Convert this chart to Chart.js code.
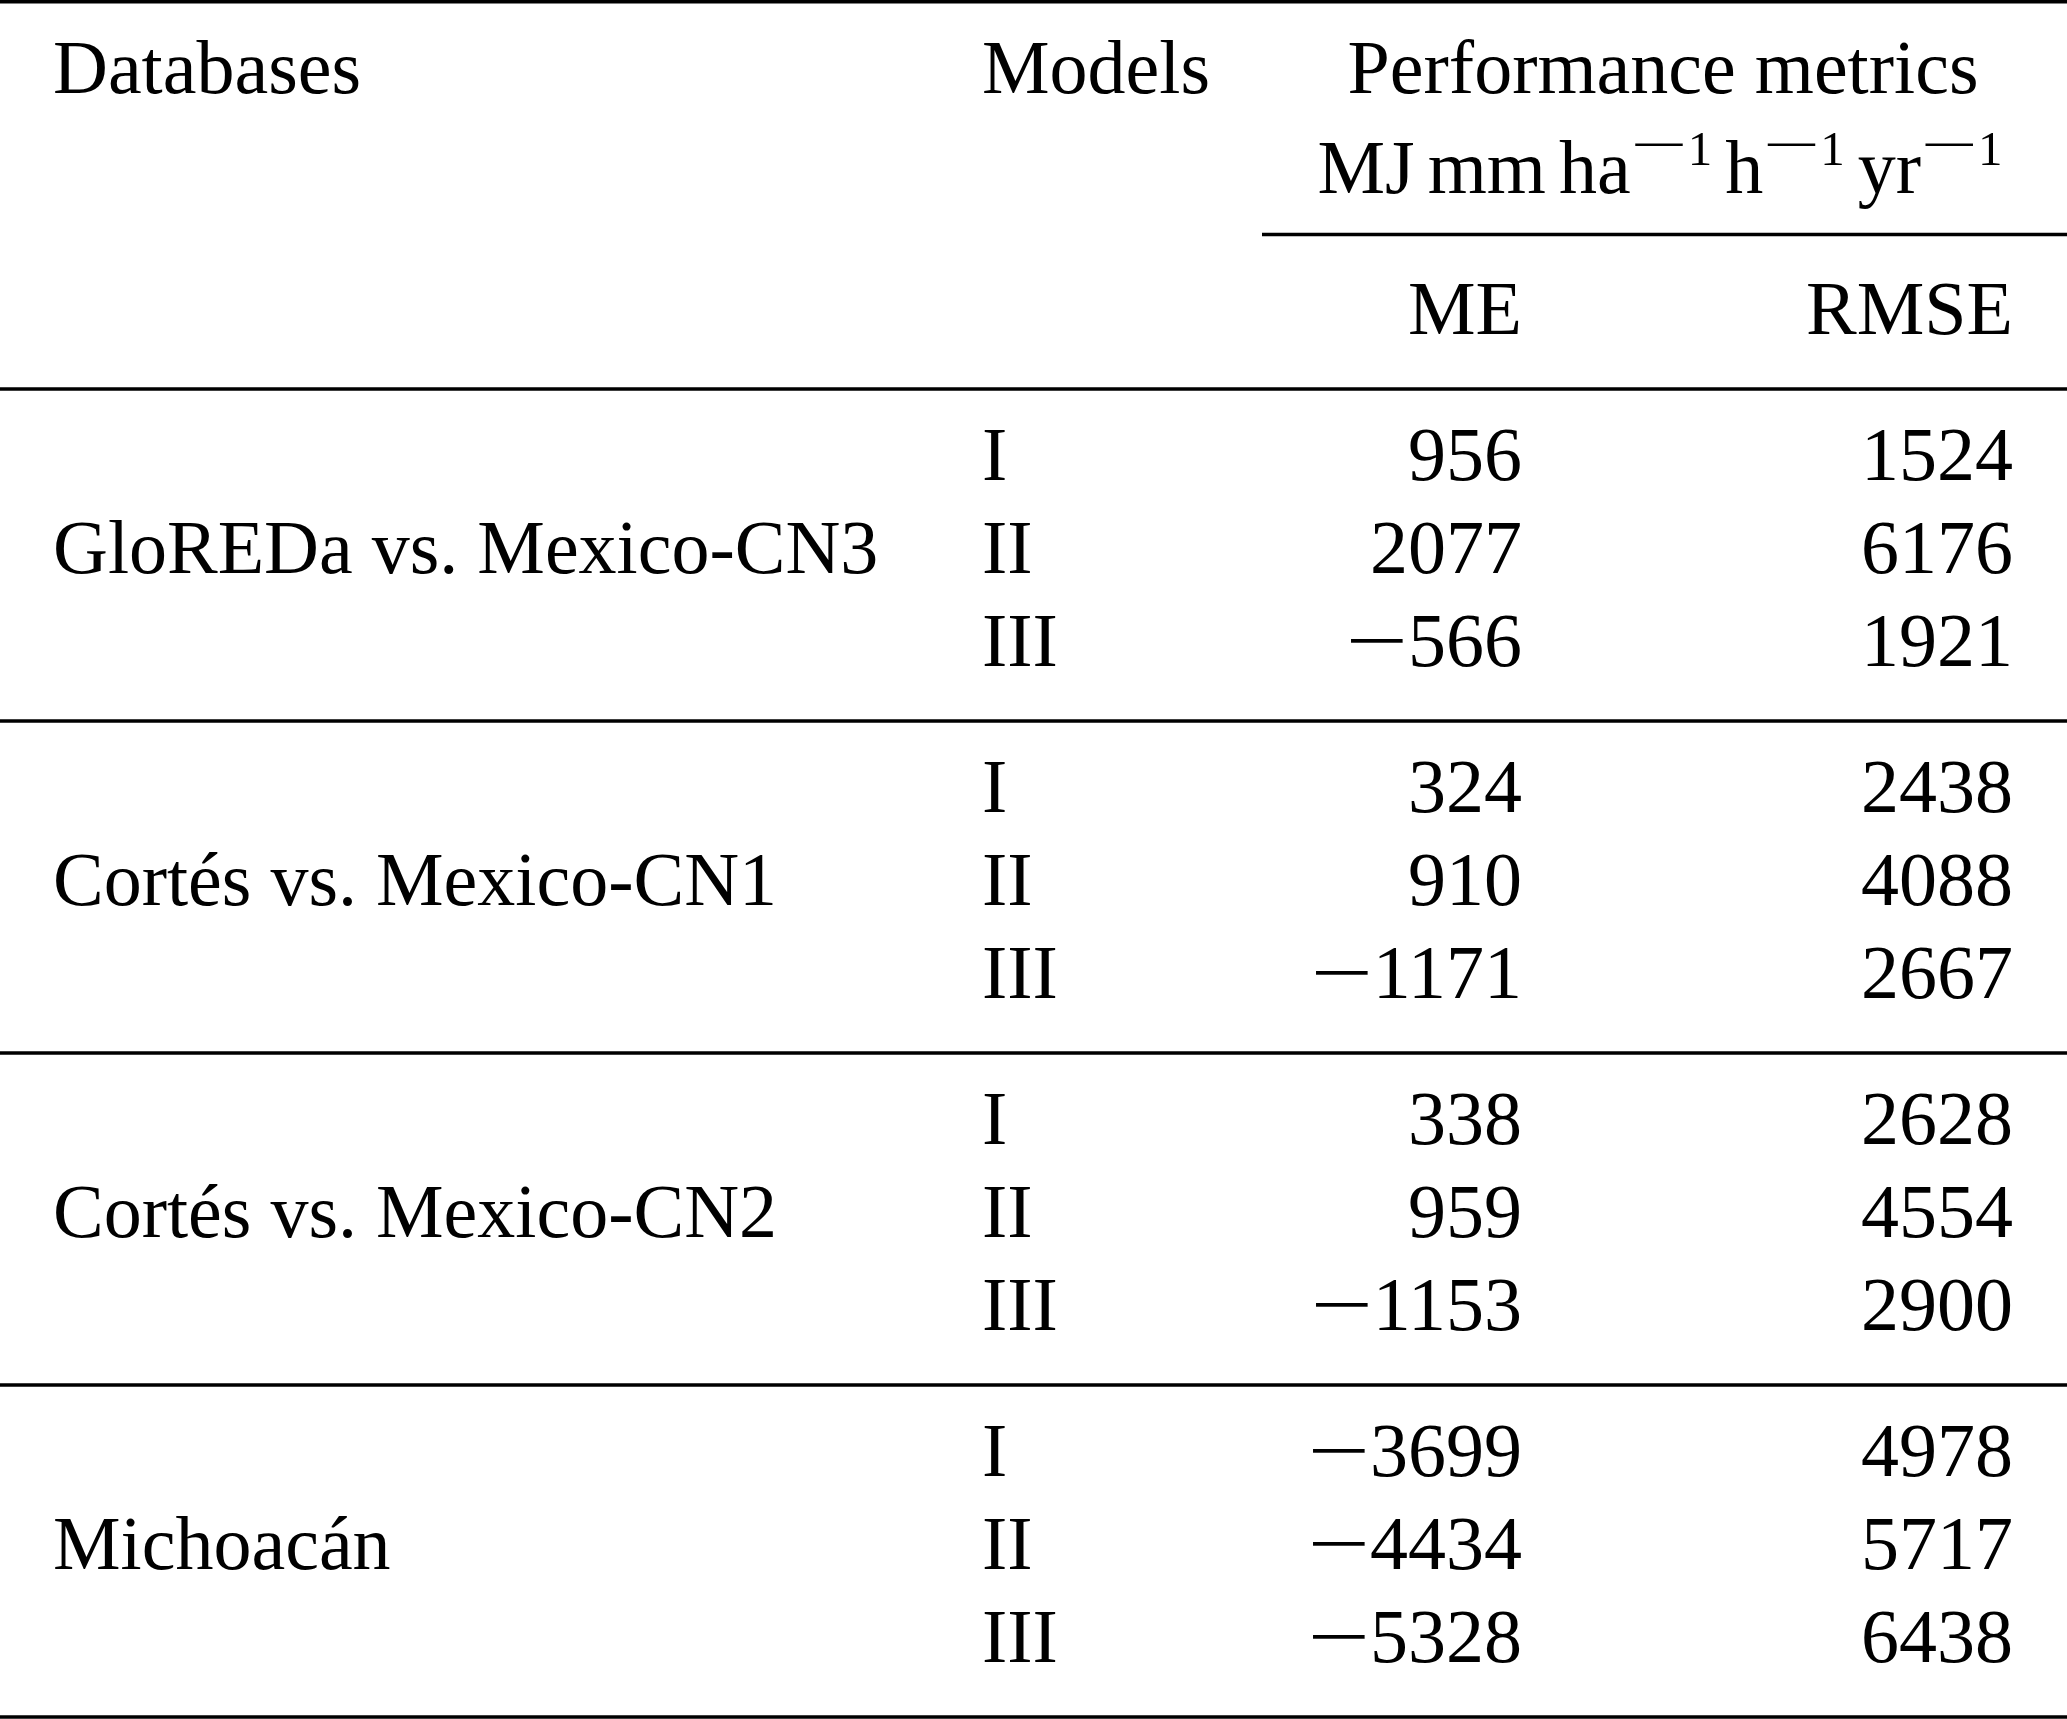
<!DOCTYPE html>
<html>
<head>
<meta charset="utf-8">
<title>Performance metrics</title>
<script src="https://cdn.jsdelivr.net/npm/chart.js@4/dist/chart.umd.min.js"></script>
<style>
    html, body { margin: 0; padding: 0; background: #ffffff; }
    #wrap { width: 2067px; height: 1719px; }
</style>
</head>
<body>
<div id="wrap"><canvas id="tabela" width="2067" height="1719"></canvas></div>
<script>
// --- DADOS DA TABELA ---
const databases = ['GloREDa vs. Mexico-CN3', 'Cortés vs. Mexico-CN1', 'Cortés vs. Mexico-CN2', 'Michoacán'];
const models = ['I', 'II', 'III'];
const meValues = [
    [956, 2077, -566],
    [324, 910, -1171],
    [338, 959, -1153],
    [-3699, -4434, -5328]
];
const rmseValues = [
    [1524, 6176, 1921],
    [2438, 4088, 2667],
    [2628, 4554, 2900],
    [4978, 5717, 6438]
];
const columnHeaders = ['Databases', 'Models', 'Performance metrics'];
const metricHeaders = ['ME', 'RMSE'];
// unidade: MJ mm ha^-1 h^-1 yr^-1
const unitTokens = ['MJ', 'mm', 'ha', 'h', 'yr'];
const unitExponents = [null, null, '1', '1', '1']; // todos negativos

// --- LAYOUT (unidades da escala = pixels da imagem) ---
const layout = {
    dbX: 53, modelX: 982, meRight: 1522, rmseRight: 2013,
    metricsCenter: 1663, unitsCenter: 1660, cmidStart: 1262,
    headBase: 93, unitBase: 193, supRaise: 28, subBase: 334,
    topRule: 1.75, cmidRule: 234.5, midRule: 389,
    rowOffset: 90.5, rowPitch: 93.3, groupPitch: 332,
    thinGap: 13, supGap: 4, supMinusW: 50, supMinusGap: 3, supMinusLift: 4,
    minusW: 54, minusGap: 4
};

const mainFont = '76px "Liberation Serif", "Times New Roman", serif';
const supFont = '49px "Liberation Serif", "Times New Roman", serif';

const tablePlugin = {
    id: 'tablePlugin',
    afterDraw(chart) {
        const { ctx, scales: { x, y } } = chart;
        const px = v => x.getPixelForValue(v);
        const py = v => y.getPixelForValue(v);

        ctx.save();
        ctx.fillStyle = '#000';
        ctx.strokeStyle = '#000';
        ctx.textBaseline = 'alphabetic';

        const rule = (yy, x0, x1, w) => {
            ctx.lineWidth = w;
            ctx.beginPath();
            ctx.moveTo(px(x0), py(yy));
            ctx.lineTo(px(x1), py(yy));
            ctx.stroke();
        };
        const text = (t, xx, yy, align) => {
            ctx.textAlign = align;
            ctx.fillText(t, px(xx), py(yy));
        };
        // sinal de menos "matemático", mais largo que o glifo da fonte
        const minus = (xLeft, yy, inkW) => {
            ctx.textAlign = 'left';
            const m = ctx.measureText('−');
            const ink = m.actualBoundingBoxLeft + m.actualBoundingBoxRight;
            const s = inkW / ink;
            ctx.save();
            ctx.translate(px(xLeft) + s * m.actualBoundingBoxLeft, py(yy));
            ctx.scale(s, 1);
            ctx.fillText('−', 0, 0);
            ctx.restore();
        };
        const number = (v, right, yy) => {
            const digits = String(Math.abs(v));
            text(digits, right, yy, 'right');
            if (v < 0) {
                const w = ctx.measureText(digits).width;
                minus(right - w - layout.minusGap - layout.minusW, yy, layout.minusW);
            }
        };

        // Cabeçalho
        ctx.font = mainFont;
        text(columnHeaders[0], layout.dbX, layout.headBase, 'left');
        text(columnHeaders[1], layout.modelX, layout.headBase, 'left');
        text(columnHeaders[2], layout.metricsCenter, layout.headBase, 'center');

        // Linha de unidades com expoentes
        const unitLine = (startX, draw) => {
            let cx = startX;
            unitTokens.forEach((tok, i) => {
                if (i > 0) cx += layout.thinGap;
                ctx.font = mainFont;
                if (draw) text(tok, cx, layout.unitBase, 'left');
                cx += ctx.measureText(tok).width;
                const e = unitExponents[i];
                if (e) {
                    ctx.font = supFont;
                    cx += layout.supGap;
                    if (draw) minus(cx, layout.unitBase - layout.supRaise - layout.supMinusLift, layout.supMinusW);
                    cx += layout.supMinusW + layout.supMinusGap;
                    if (draw) text(e, cx, layout.unitBase - layout.supRaise, 'left');
                    cx += ctx.measureText(e).width;
                }
            });
            return cx - startX;
        };
        const total = unitLine(0, false);
        unitLine(layout.unitsCenter - total / 2, true);

        ctx.font = mainFont;
        text(metricHeaders[0], layout.meRight, layout.subBase, 'right');
        text(metricHeaders[1], layout.rmseRight, layout.subBase, 'right');

        // Regras
        rule(layout.topRule, 0, x.max, 3.5);
        rule(layout.cmidRule, layout.cmidStart, x.max, 3.5);
        rule(layout.midRule, 0, x.max, 3.5);

        // Corpo
        databases.forEach((db, g) => {
            const top = layout.midRule + g * layout.groupPitch;
            models.forEach((m, r) => {
                const base = top + layout.rowOffset + r * layout.rowPitch;
                text(m, layout.modelX, base, 'left');
                number(meValues[g][r], layout.meRight, base);
                number(rmseValues[g][r], layout.rmseRight, base);
                if (r === 1) text(db, layout.dbX, base, 'left');
            });
            rule(top + layout.groupPitch, 0, x.max, 3.5);
        });

        ctx.restore();
    }
};

document.addEventListener('DOMContentLoaded', () => {
    const ctx = document.getElementById('tabela').getContext('2d');
    new Chart(ctx, {
        type: 'scatter',
        data: { datasets: [{ data: [], pointRadius: 0 }] },
        options: {
            responsive: false,
            animation: false,
            devicePixelRatio: 1,
            layout: { padding: 0 },
            plugins: { legend: { display: false }, tooltip: { enabled: false } },
            scales: {
                x: { type: 'linear', min: 0, max: 2067, display: false },
                y: { type: 'linear', min: 0, max: 1719, reverse: true, display: false }
            }
        },
        plugins: [tablePlugin]
    });
});
</script>
</body>
</html>
